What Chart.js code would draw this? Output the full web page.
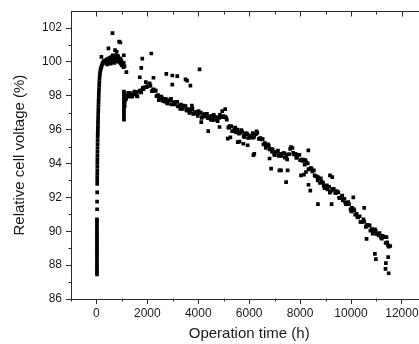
<!DOCTYPE html>
<html lang="en">
<head>
<meta charset="UTF-8">
<title>Relative cell voltage vs operation time</title>
<script src="https://cdn.jsdelivr.net/npm/chart.js"></script>
<style>
html, body {
  margin: 0;
  padding: 0;
  background: #ffffff;
  overflow: hidden;
}
.wrap {
  width: 419px;
  height: 344px;
  overflow: hidden;
}
</style>
</head>
<body>
<div class="wrap">
<canvas id="voltChart" width="430" height="344"></canvas>
</div>
<script>
// Values (time in h, voltage in %)

// start-up: steep rise at t ~ 0
const riseTime = [
  20, 20, 20, 20, 20, 20, 20, 20, 20, 20,
  20, 20, 20, 20, 20, 20, 20, 20, 20, 20,
  20, 20, 20, 25, 25, 28, 30, 30, 30, 32,
  33, 34, 35, 36, 38, 40, 42, 44, 46, 48,
  50, 52, 55, 58, 60, 63, 66, 70, 74, 78,
  82, 86, 90, 95, 100, 106, 112, 120, 130, 140,
  155, 170, 190, 210, 235, 265
];
const riseVolt = [
  87.45, 87.6, 87.75, 87.9, 88.05, 88.2, 88.35, 88.5, 88.65, 88.8,
  88.95, 89.1, 89.25, 89.4, 89.55, 89.7, 89.85, 90.0, 90.15, 90.3,
  90.45, 90.6, 90.7, 91.3, 91.75, 92.3, 92.8, 93.0, 93.2, 93.4,
  93.6, 93.82, 94.04, 94.26, 94.48, 94.7, 94.92, 95.14, 95.36, 95.58,
  95.75, 95.9, 96.05, 96.2, 96.4, 96.6, 96.8, 97.0, 97.2, 97.4,
  97.6, 97.8, 98.0, 98.2, 98.4, 98.6, 98.8, 99.0, 99.2, 99.35,
  99.5, 99.6, 99.7, 99.8, 99.9, 100.0
];

// first plateau near 100 %
const peakTime = [
  290, 320, 350, 380, 410, 440, 470, 500, 530, 560,
  590, 620, 650, 680, 710, 740, 770, 800, 830, 860,
  890, 920, 950, 980, 1010, 1040, 1070, 1100, 420, 560,
  640, 700, 760, 850, 940, 1000, 1060
];
const peakVolt = [
  100.05, 99.95, 100.1, 100.0, 100.15, 99.95, 100.2, 100.05, 100.25, 100.1,
  100.3, 100.0, 100.2, 100.35, 100.1, 100.25, 100.05, 100.3, 100.15, 100.0,
  100.2, 100.05, 99.9, 100.1, 99.95, 99.85, 99.95, 99.75, 99.85, 99.9,
  100.4, 99.95, 100.4, 100.35, 100.2, 99.8, 99.7
];

// drop after restart at ~1080 h
const jumpTime = [
  1080, 1080, 1080, 1080, 1080, 1080, 1080, 1080, 1080, 1080,
  1080, 1080, 1110, 1120, 1150
];
const jumpVolt = [
  96.6, 96.75, 96.9, 97.05, 97.2, 97.35, 97.5, 97.65, 97.8, 97.95,
  98.1, 98.25, 97.4, 97.65, 97.8
];

// main degradation band
const bandTime = [
  1100, 1160, 1220, 1280, 1340, 1400, 1460, 1520, 1580, 1640,
  1700, 1760, 1820, 1880, 1940, 2000, 2060, 2120, 2180, 2240,
  2300, 2360, 2420, 2480, 2540, 2600, 2660, 2720, 2780, 2840,
  2900, 2960, 3020, 3080, 3140, 3200, 3260, 3320, 3380, 3440,
  3500, 3560, 3620, 3680, 3740, 3800, 3860, 3920, 3980, 4040,
  4100, 4160, 4220, 4280, 4340, 4400, 4460, 4520, 4580, 4640,
  4700, 4760, 4820, 4880, 4940, 5000, 5060, 5120, 5180, 5240,
  5300, 5360, 5420, 5480, 5540, 5600, 5660, 5720, 5780, 5840,
  5900, 5960, 6020, 6080, 6140, 6200, 6260, 6320, 6380, 6440,
  6500, 6560, 6620, 6680, 6740, 6800, 6860, 6920, 6980, 7040,
  7100, 7160, 7220, 7280, 7340, 7400, 7460, 7520, 7580, 7640,
  7700, 7760, 7820, 7880, 7940, 8000, 8060, 8120, 8180, 8240,
  8300, 8360, 8420, 8480, 8540, 8600, 8660, 8720, 8780, 8840,
  8900, 8960, 9020, 9080, 9140, 9200, 9260, 9320, 9380, 9440,
  9500, 9560, 9620, 9680, 9740, 9800, 9860, 9920, 9980, 10040,
  10100, 10160, 10220, 10280, 10340, 10400, 10460, 10520, 10580, 10640,
  10700, 10760, 10820, 10880, 10940, 11000, 11060, 11120, 11180, 11240,
  11300, 11360, 11420, 11480, 11540
];
const bandVolt = [
  98.05, 97.85, 98.03, 97.95, 98.16, 97.95, 98.08, 98.19, 98.0, 98.23,
  98.3, 98.2, 98.48, 98.5, 98.81, 98.58, 98.59, 98.6, 98.28, 98.38,
  98.31, 97.98, 98.04, 97.83, 97.96, 97.7, 97.77, 97.82, 97.57, 97.74,
  97.75, 97.5, 97.63, 97.49, 97.65, 97.38, 97.44, 97.49, 97.23, 97.4,
  97.4, 97.12, 97.22, 97.06, 97.19, 96.93, 97.01, 97.06, 96.82, 96.99,
  97.01, 96.77, 96.9, 96.78, 96.94, 96.69, 96.77, 96.82, 96.57, 96.74,
  96.75, 96.5, 96.69, 96.75, 97.1, 96.8, 96.76, 96.6, 96.14, 96.22,
  96.2, 95.92, 96.02, 95.86, 96.01, 95.76, 95.84, 95.89, 95.64, 95.79,
  95.78, 95.51, 95.65, 95.58, 95.8, 95.6, 95.73, 95.81, 95.45, 95.51,
  95.43, 95.13, 95.21, 95.03, 95.14, 94.83, 94.85, 94.84, 94.54, 94.69,
  94.7, 94.45, 94.58, 94.45, 94.61, 94.35, 94.42, 94.55, 94.55, 94.97,
  94.92, 94.54, 94.57, 94.39, 94.51, 94.2, 94.23, 94.24, 93.94, 94.07,
  94.01, 93.68, 93.73, 93.53, 93.6, 93.25, 93.23, 93.19, 92.85, 92.95,
  92.88, 92.55, 92.63, 92.48, 92.63, 92.35, 92.44, 92.5, 92.26, 92.38,
  92.3, 91.96, 92.01, 91.82, 91.92, 91.6, 91.61, 91.6, 91.29, 91.39,
  91.31, 90.98, 91.03, 90.82, 90.89, 90.55, 90.57, 90.57, 90.26, 90.38,
  90.34, 90.04, 90.13, 89.97, 90.11, 89.83, 89.87, 89.9, 89.63, 89.73,
  89.65, 89.31, 89.34, 89.09, 89.13
];

// second layer of the band (fills its thickness)
const band2Time = [
  1130, 1250, 1370, 1490, 1610, 1730, 1850, 1970, 2090, 2210,
  2330, 2450, 2570, 2690, 2810, 2930, 3050, 3170, 3290, 3410,
  3530, 3650, 3770, 3890, 4010, 4130, 4250, 4370, 4490, 4610,
  4730, 4850, 4970, 5090, 5210, 5330, 5450, 5570, 5690, 5810,
  5930, 6050, 6170, 6290, 6410, 6530, 6650, 6770, 6890, 7010,
  7130, 7250, 7370, 7490, 7610, 7730, 7850, 7970, 8090, 8210,
  8330, 8450, 8570, 8690, 8810, 8930, 9050, 9170, 9290, 9410,
  9530, 9650, 9770, 9890, 10010, 10130, 10250, 10370, 10490, 10610,
  10730, 10850, 10970, 11090, 11210, 11330, 11450
];
const band2Volt = [
  97.8, 98.18, 97.99, 98.25, 97.96, 98.33, 98.4, 98.52, 98.74, 98.32,
  98.31, 97.75, 97.89, 97.66, 97.54, 97.82, 97.52, 97.65, 97.23, 97.43,
  97.17, 96.99, 97.23, 96.95, 97.1, 96.7, 96.92, 96.7, 96.6, 96.88,
  96.59, 96.88, 96.74, 96.71, 96.12, 95.91, 96.13, 95.82, 95.98, 95.56,
  95.73, 95.53, 95.53, 95.91, 95.47, 95.44, 94.93, 95.04, 94.71, 94.5,
  94.77, 94.48, 94.62, 94.25, 94.87, 94.64, 94.33, 94.52, 94.15, 94.2,
  93.66, 93.71, 93.31, 93.01, 93.12, 92.68, 92.72, 92.28, 92.5, 92.26,
  91.98, 92.11, 91.7, 91.72, 91.18, 91.23, 90.84, 90.55, 90.71, 90.31,
  90.35, 89.86, 90.03, 89.75, 89.56, 89.67, 89.18
];

// scattered single points away from the band
const outTime = [
  195, 470, 630, 730, 795, 890, 940, 1075, 1176, 1700,
  1760, 1800, 2156, 2240, 2744, 2979, 3175, 2979, 3500, 3560,
  3690, 4050, 3750, 4116, 4390, 4835, 5057, 5160, 5260, 5550,
  5620, 5770, 5940, 6166, 6200, 6800, 6860, 7185, 7250, 7450,
  7510, 8035, 8150, 8230, 8322, 8330, 8400, 8700, 9172, 9263,
  9237, 10090, 10518, 10610, 10937, 10976, 11393, 11460, 11370, 11355,
  11480
];
const outVolt = [
  100.3, 100.8, 101.7, 100.7, 100.6, 101.2, 101.15, 100.4, 99.4, 99.1,
  99.65, 100.2, 100.5, 99.07, 99.3, 99.2, 99.17, 98.66, 98.97, 98.9,
  98.6, 99.56, 97.42, 96.45, 95.92, 96.16, 97.22, 95.47, 95.55, 95.27,
  95.3, 95.17, 95.08, 94.5, 94.58, 94.3, 93.7, 93.6, 93.6, 92.9,
  93.6, 93.3, 93.35, 93.5, 94.78, 92.75, 92.4, 91.6, 93.3, 93.2,
  91.6, 92.0, 91.38, 89.55, 88.67, 88.36, 89.65, 88.47, 88.12, 87.78,
  87.52
];

// axis ticks
const xTicks = [0, 2000, 4000, 6000, 8000, 10000, 12000];
const xMinorTicks = [-1000, 1000, 3000, 5000, 7000, 9000, 11000, 13000];
const yTicks = [86, 88, 90, 92, 94, 96, 98, 100, 102];
const yMinorTicks = [87, 89, 91, 93, 95, 97, 99, 101];

const axisColor = '#2a2a2a';
const textColor = '#1a1a1a';
const fontFamily = "'Liberation Sans', Arial, sans-serif";

function toPoints(xs, ys) {
  return xs.map((t, i) => ({ x: t, y: ys[i] }));
}

function series(xs, ys) {
  return {
    data: toPoints(xs, ys),
    pointStyle: 'rect',
    pointRadius: 2.6,
    pointHoverRadius: 2.6,
    pointBorderWidth: 0,
    backgroundColor: '#000000',
    borderColor: '#000000',
    showLine: false
  };
}

// top/right frame plus minor ticks (Origin style box)
const framePlugin = {
  id: 'frame',
  afterDraw(chart) {
    const { ctx, chartArea: a, scales } = chart;
    const x = scales.x, y = scales.y;
    ctx.save();
    ctx.strokeStyle = axisColor;
    ctx.lineWidth = 1;
    ctx.beginPath();
    const top = Math.round(a.top) + 0.5;
    const right = Math.round(a.right) - 0.5;
    const bottom = Math.round(a.bottom) - 0.5;
    const left = Math.round(a.left) + 0.5;
    ctx.moveTo(left, top);
    ctx.lineTo(right, top);
    ctx.lineTo(right, bottom);
    xTicks.forEach(v => {
      const p = Math.round(x.getPixelForValue(v)) + 0.5;
      ctx.moveTo(p, top);
      ctx.lineTo(p, top + 5);
    });
    xMinorTicks.forEach(v => {
      const p = Math.round(x.getPixelForValue(v)) + 0.5;
      ctx.moveTo(p, top);
      ctx.lineTo(p, top + 3);
      ctx.moveTo(p, bottom);
      ctx.lineTo(p, bottom + 3);
    });
    yTicks.forEach(v => {
      const p = Math.round(y.getPixelForValue(v)) + 0.5;
      ctx.moveTo(right, p);
      ctx.lineTo(right - 5, p);
    });
    yMinorTicks.forEach(v => {
      const p = Math.round(y.getPixelForValue(v)) + 0.5;
      ctx.moveTo(left, p);
      ctx.lineTo(left - 3, p);
      ctx.moveTo(right, p);
      ctx.lineTo(right - 3, p);
    });
    ctx.stroke();
    ctx.restore();
  }
};

const ctx = document.getElementById('voltChart').getContext('2d');
new Chart(ctx, {
  type: 'scatter',
  data: {
    datasets: [
      series(riseTime, riseVolt),
      series(peakTime, peakVolt),
      series(jumpTime, jumpVolt),
      series(bandTime, bandVolt),
      series(band2Time, band2Volt),
      series(outTime, outVolt)
    ]
  },
  options: {
    responsive: false,
    animation: false,
    devicePixelRatio: 1,
    layout: { padding: { top: 10, right: 2, left: 0, bottom: 0 } },
    plugins: {
      legend: { display: false },
      tooltip: { enabled: false }
    },
    scales: {
      x: {
        type: 'linear',
        min: -1000,
        max: 13000,
        afterBuildTicks: s => { s.ticks = xTicks.map(v => ({ value: v })); },
        afterFit: s => { s.height = 45; },
        ticks: {
          color: textColor,
          padding: 2,
          maxRotation: 0,
          font: { family: fontFamily, size: 12 },
          callback: v => String(v)
        },
        grid: {
          display: true,
          drawOnChartArea: false,
          drawTicks: true,
          tickLength: 5,
          color: axisColor,
          lineWidth: 1
        },
        border: { display: true, color: axisColor, width: 1 },
        title: {
          display: true,
          text: 'Operation time (h)',
          color: textColor,
          font: { family: fontFamily, size: 15 },
          padding: { top: 0, bottom: 1 }
        }
      },
      y: {
        type: 'linear',
        min: 86,
        max: 103,
        afterBuildTicks: s => { s.ticks = yTicks.map(v => ({ value: v })); },
        afterFit: s => { s.width = 71; },
        ticks: {
          color: textColor,
          padding: 4,
          font: { family: fontFamily, size: 12 },
          callback: v => String(v)
        },
        grid: {
          display: true,
          drawOnChartArea: false,
          drawTicks: true,
          tickLength: 5,
          color: axisColor,
          lineWidth: 1
        },
        border: { display: true, color: axisColor, width: 1 },
        title: {
          display: true,
          text: 'Relative cell voltage (%)',
          color: textColor,
          font: { family: fontFamily, size: 15 },
          padding: { top: 11, bottom: 0 }
        }
      }
    }
  },
  plugins: [framePlugin]
});
</script>
</body>
</html>
